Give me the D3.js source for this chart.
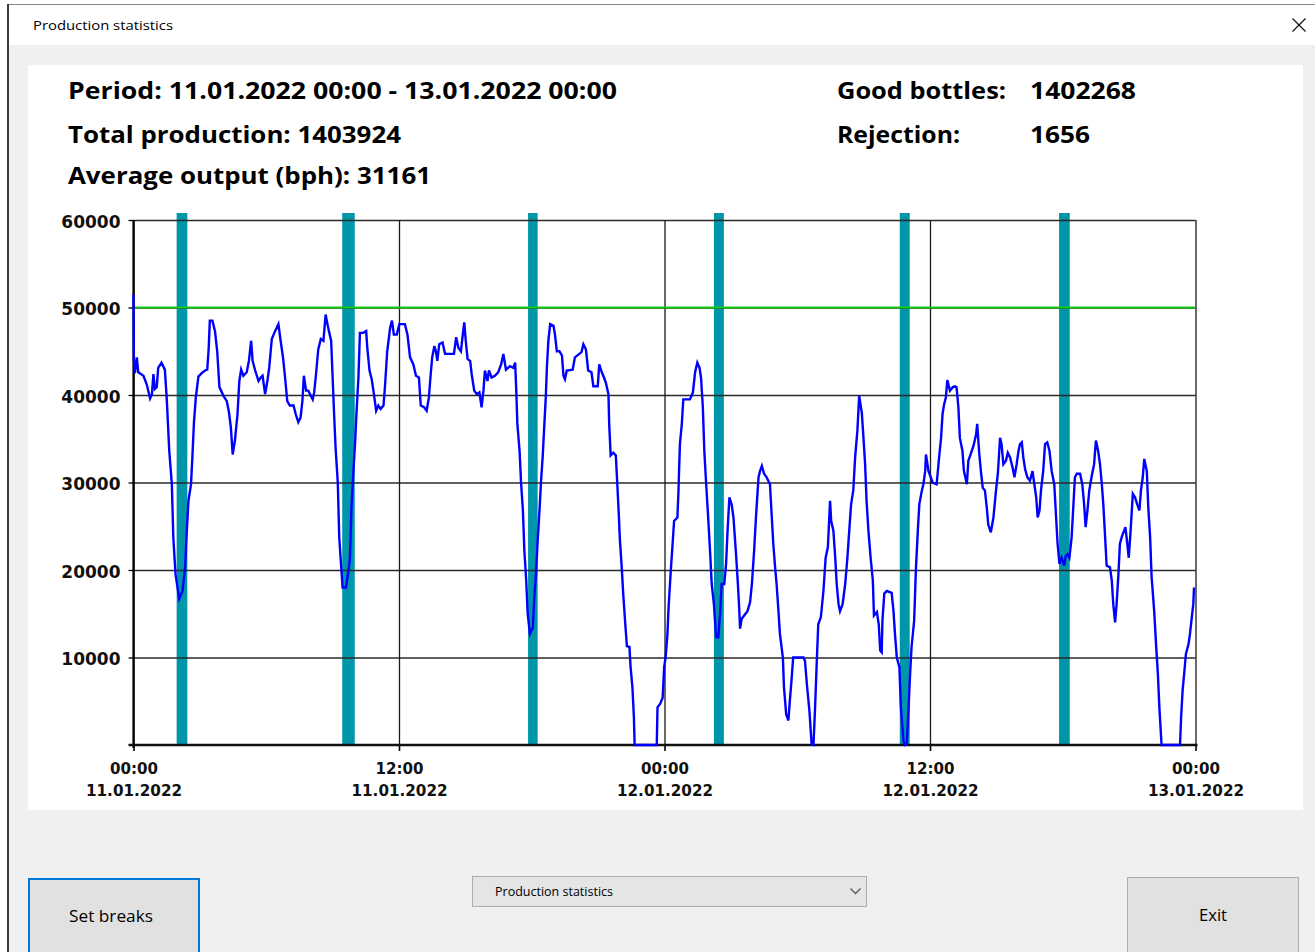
<!DOCTYPE html>
<html><head><meta charset="utf-8">
<script src="https://cdn.jsdelivr.net/npm/d3@7"></script>
<style>body{margin:0;background:#f0f0f0;overflow:hidden} svg{display:block}</style>
</head><body><svg id="c" width="1315" height="952"></svg>
<script>
// ---------- data ----------
const windowTitle = "Production statistics";
const periodText = "Period: 11.01.2022 00:00 - 13.01.2022 00:00";
const totalProduction = 1403924;
const averageOutput = 31161;
const goodBottles = 1402268;
const rejection = 1656;
const periodStart = new Date(2022, 0, 11, 0, 0);
const periodEnd = new Date(2022, 0, 13, 0, 0);
const yTicks = [10000, 20000, 30000, 40000, 50000, 60000];
const targetOutput = 50000;
// breaks, minutes since period start
const breakStartMin = [117, 566, 1070, 1574, 2078, 2510];
const breakEndMin   = [146, 600, 1096, 1601, 2105, 2539];
// output samples: minutes since period start, bottles per hour
const sampleMin = [0,1,4,9,13,27,36,45,50,54,58,63,67,76,85,90,97,104,108,114,124,133,140,144,149,156,160,164,169,176,185,194,200,204,207,214,221,227,233,244,253,259,264,269,275,282,287,292,298,307,313,319,323,330,339,345,350,357,363,368,375,384,393,399,406,411,417,424,434,440,447,453,458,462,468,474,481,486,490,495,501,508,515,521,526,531,536,540,544,548,554,558,563,567,576,583,587,591,596,601,605,610,614,623,631,634,640,646,652,658,664,670,678,682,688,696,701,706,714,721,736,743,750,759,766,774,779,788,795,801,806,810,816,820,824,829,838,845,869,875,881,888,894,897,901,906,913,917,924,931,938,944,949,953,960,964,971,980,989,997,1003,1010,1021,1030,1035,1038,1041,1047,1051,1056,1060,1065,1069,1075,1083,1087,1092,1096,1101,1105,1110,1113,1118,1121,1125,1130,1139,1143,1148,1155,1162,1166,1170,1175,1191,1197,1215,1220,1227,1233,1242,1247,1259,1263,1270,1276,1281,1288,1290,1294,1301,1308,1312,1316,1319,1324,1328,1333,1338,1345,1348,1353,1357,1359,1419,1421,1428,1435,1439,1443,1448,1451,1457,1462,1466,1475,1478,1480,1482,1487,1491,1509,1517,1523,1529,1535,1539,1544,1548,1553,1559,1564,1568,1574,1580,1586,1591,1595,1602,1607,1611,1616,1622,1627,1634,1639,1642,1645,1649,1656,1665,1672,1677,1683,1688,1695,1699,1704,1710,1717,1726,1731,1735,1740,1744,1749,1753,1761,1764,1770,1776,1780,1785,1789,1817,1821,1826,1833,1839,1844,1848,1853,1857,1864,1871,1877,1883,1889,1892,1898,1903,1907,1912,1916,1923,1930,1936,1941,1946,1952,1957,1963,1968,1975,1979,1984,1988,1993,1999,2005,2008,2016,2021,2025,2029,2031,2036,2043,2056,2061,2065,2070,2077,2081,2088,2092,2097,2101,2106,2110,2117,2122,2127,2131,2138,2142,2147,2149,2156,2162,2167,2178,2185,2190,2194,2198,2203,2207,2214,2222,2228,2232,2237,2241,2248,2252,2260,2264,2270,2278,2285,2288,2293,2298,2303,2309,2314,2318,2325,2332,2339,2344,2350,2354,2359,2366,2371,2377,2384,2389,2395,2400,2404,2409,2413,2418,2424,2431,2438,2443,2448,2452,2457,2461,2467,2472,2478,2484,2490,2497,2502,2506,2511,2517,2524,2528,2533,2538,2544,2549,2553,2558,2567,2573,2578,2582,2587,2592,2598,2605,2610,2616,2621,2626,2630,2635,2639,2648,2653,2657,2662,2666,2671,2675,2681,2690,2695,2699,2704,2710,2716,2722,2728,2732,2737,2741,2748,2752,2757,2761,2768,2773,2778,2782,2788,2838,2841,2845,2850,2854,2861,2865,2870,2874,2876];
const outputBph = [51500,44000,42500,44300,42600,42200,41200,39600,40100,42400,40700,40900,43100,43700,42900,39700,33600,29800,23700,19500,16700,17600,20300,24100,27900,29800,33200,36900,39700,42100,42500,42800,42900,45400,48500,48500,47300,45000,40900,39900,39300,38000,36300,33200,34800,37800,41600,42900,42200,42600,43900,46200,43900,42800,41600,42000,42200,40100,41600,43100,46400,47300,48100,46200,44100,42000,39300,38800,38800,37800,36900,37400,39300,42200,40500,40500,39900,39500,40300,42400,45200,46400,46200,49200,48100,47100,46200,42000,37800,34000,30000,23700,20500,18000,18000,19900,21400,27100,31000,34600,38200,42000,47100,47100,47300,45400,42800,41800,40100,38200,38800,38400,38800,41000,45000,47700,48500,46900,46900,48100,48100,46900,44300,43500,42200,42000,38800,38600,38200,39700,42400,44300,45600,45000,43900,45800,46000,44700,44700,46600,45400,45000,47300,48300,46200,44100,43900,42400,40500,40100,40300,38600,40500,42800,41600,42800,42000,42200,42600,43500,44700,42900,43300,43100,43700,40500,36700,33600,30000,26800,22200,18800,15000,12700,13400,16900,19900,23300,26800,30000,33200,35700,39700,43100,46200,48100,47900,46900,45000,45000,44500,42200,41800,42800,42900,44300,44900,45800,45200,42800,42600,41000,41000,43500,42600,42000,41400,40100,36700,33100,33400,33100,29800,26400,23500,20300,17300,14200,11300,11200,8900,6600,3200,0,0,4300,4700,5400,8900,10000,12700,15700,19900,23000,25600,26000,29100,32100,34500,36700,39500,39500,40300,42600,43700,43100,42000,38600,33600,29800,25600,21800,18400,16100,12300,12300,15300,18400,18400,20700,24500,28300,27500,26000,21800,18400,16100,13300,14400,14800,15300,16300,18400,22200,26000,30600,31300,31900,31000,30600,29800,26000,23000,20300,18400,15300,12700,10000,6600,3500,2800,5100,7700,10000,10000,9600,7000,3900,100,0,3900,9600,13800,14600,17600,21400,22600,27900,25600,24500,21400,18400,16100,15300,16100,18400,21400,24500,27500,29100,32900,35900,39900,38000,35500,32100,27900,24500,21400,18800,14800,15200,13800,10800,10600,14200,17300,17600,17400,15300,12700,10000,8900,4300,500,0,100,3500,8100,11200,14200,20300,24500,27500,29100,29800,31300,33200,31300,30600,30000,29800,33000,35100,37800,38900,39700,41700,40500,40900,41000,40900,38600,35100,33600,31300,29800,32500,33200,34200,35500,36700,33600,31300,29400,29100,27100,25200,24300,26000,29100,31000,35100,34400,32100,32500,33400,32900,31700,30600,32100,33600,34400,34600,32900,31500,30600,30200,31300,29800,28300,26000,26800,29100,31300,34400,34600,33600,31300,29800,26000,23000,20700,21400,20500,21600,21800,21400,23700,27500,30600,31000,31000,29800,27500,24900,26800,29100,30600,32100,34800,33600,32100,29800,27500,23700,20500,20300,18800,16100,14000,16100,19500,23000,23900,24900,23000,21400,24500,28700,28300,27500,26800,29100,30600,32700,31300,27100,23700,19200,15300,11500,8100,4300,0,0,3200,6200,8500,10400,11500,12700,14600,16100,18000];
const buttonLabels = ["Set breaks", "Exit"];
const viewOptions = ["Production statistics"];

// ---------- drawing ----------
const svg = d3.select("#c");
const uiFont = "'Open Sans','Noto Sans',sans-serif";
const axFont = "'DejaVu Sans',sans-serif";

// window frame
svg.append("rect").attr("x",0).attr("y",0).attr("width",1315).attr("height",952).attr("fill","#f0f0f0");
svg.append("rect").attr("x",0).attr("y",0).attr("width",1315).attr("height",5).attr("fill","#ffffff");
svg.append("rect").attr("x",0).attr("y",0).attr("width",8).attr("height",952).attr("fill","#ffffff");
svg.append("rect").attr("x",8).attr("y",5).attr("width",1307).attr("height",40).attr("fill","#ffffff");
svg.append("line").attr("x1",8).attr("x2",1315).attr("y1",4.5).attr("y2",4.5).attr("stroke","#8a8a8a").attr("stroke-width",1);
svg.append("line").attr("x1",8).attr("x2",8).attr("y1",4).attr("y2",952).attr("stroke","#3a3a3a").attr("stroke-width",2);
svg.append("text").attr("x",33).attr("y",30).attr("font-family",uiFont).attr("font-size",13.5)
  .attr("fill","#000").attr("textLength",140).attr("lengthAdjust","spacingAndGlyphs").text(windowTitle);
// close X
svg.append("path").attr("d","M1292.5,18.5 L1305.5,31.5 M1305.5,18.5 L1292.5,31.5").attr("stroke","#111").attr("stroke-width",1.2);

// chart panel
svg.append("rect").attr("x",28).attr("y",65).attr("width",1275).attr("height",745).attr("fill","#ffffff");

// header texts
function hdr(x, yb, txt, w){
  svg.append("text").attr("x",x).attr("y",yb).attr("font-family",uiFont).attr("font-weight",700)
    .attr("font-size",23).attr("fill","#000").attr("textLength",w).attr("lengthAdjust","spacingAndGlyphs").text(txt);
}
hdr(68, 99, periodText, 549);
hdr(68, 143, "Total production: " + totalProduction, 333);
hdr(68, 184, "Average output (bph): " + averageOutput, 363);
hdr(837, 99, "Good bottles:", 169);
hdr(1030, 99, String(goodBottles), 106);
hdr(837, 143, "Rejection:", 123);
hdr(1030, 143, String(rejection), 60);

// scales
const x = d3.scaleTime().domain([periodStart, periodEnd]).range([133.5, 1195.5]);
const y = d3.scaleLinear().domain([0, 60000]).range([745, 220]);
const atMin = m => new Date(periodStart.getTime() + m * 60000);
const xTicks = x.ticks(d3.timeHour.every(12));

const plot = svg.append("g");

// breaks
plot.selectAll("rect.brk").data(breakStartMin.map((s,i)=>({s, e: breakEndMin[i]}))).join("rect")
  .attr("class","brk")
  .attr("x", d => x(atMin(d.s))).attr("width", d => x(atMin(d.e)) - x(atMin(d.s)))
  .attr("y", y(60000) - 7).attr("height", y(0) - y(60000) + 7)
  .attr("fill", "#0096aa");

// horizontal grid
plot.append("g").attr("transform",`translate(${x(periodStart)},0)`)
  .call(d3.axisLeft(y).tickValues(yTicks).tickSize(-(x(periodEnd)-x(periodStart))).tickFormat(""))
  .call(g => g.select(".domain").remove())
  .call(g => g.selectAll("line").attr("stroke","#2a2a2a").attr("stroke-width",1.3));

// vertical grid
plot.append("g").attr("transform",`translate(0,${y(0)})`)
  .call(d3.axisBottom(x).tickValues(xTicks).tickSize(-(y(0)-y(60000))).tickFormat(""))
  .call(g => g.select(".domain").remove())
  .call(g => g.selectAll("line").attr("stroke","#1a1a1a").attr("stroke-width",1.3));

// target line
plot.append("line").attr("x1",x(periodStart)).attr("x2",x(periodEnd))
  .attr("y1",y(targetOutput)).attr("y2",y(targetOutput))
  .attr("stroke","#11cc11").attr("stroke-width",2);

// y labels + small ticks
const yAx = plot.append("g").attr("transform",`translate(${x(periodStart)},0)`)
  .call(d3.axisLeft(y).tickValues(yTicks).tickSize(5).tickPadding(8).tickFormat(d3.format("d")));
yAx.select(".domain").remove();
yAx.selectAll("line").attr("stroke","#000").attr("stroke-width",1.3);
yAx.selectAll("text").attr("font-family",axFont).attr("font-weight",700).attr("font-size",17)
  .attr("fill","#111").attr("dy","0.42em");

// x axis
const xAx = plot.append("g").attr("transform",`translate(0,${y(0)})`)
  .call(d3.axisBottom(x).tickValues(xTicks).tickSize(6).tickFormat(""));
xAx.select(".domain").remove();
xAx.selectAll("line").attr("stroke","#000").attr("stroke-width",1.6);
const fTime = d3.timeFormat("%H:%M"), fDate = d3.timeFormat("%d.%m.%Y");
xAx.selectAll(".tick").each(function(d){
  const t = d3.select(this).append("text").attr("text-anchor","middle")
    .attr("font-family",axFont).attr("font-weight",700).attr("font-size",16).attr("fill","#111");
  t.append("tspan").attr("x",0).attr("y",29).attr("textLength",48).attr("lengthAdjust","spacingAndGlyphs").text(fTime(d));
  t.append("tspan").attr("x",0).attr("y",51).attr("textLength",96).attr("lengthAdjust","spacingAndGlyphs").text(fDate(d));
});

// axis lines
plot.append("line").attr("x1",x(periodStart)).attr("x2",x(periodStart)).attr("y1",y(60000)).attr("y2",y(0)+3)
  .attr("stroke","#000").attr("stroke-width",2.2);
plot.append("line").attr("x1",x(periodStart)-5).attr("x2",x(periodEnd)+2).attr("y1",y(0)).attr("y2",y(0))
  .attr("stroke","#111").attr("stroke-width",2.6);

// output line
const series = sampleMin.map((m,i)=>({t: atMin(m), v: outputBph[i]}));
plot.append("path").datum(series)
  .attr("d", d3.line().x(d => x(d.t)).y(d => y(d.v)))
  .attr("fill","none").attr("stroke","#0000ff").attr("stroke-width",2.4).attr("stroke-linejoin","miter");

// bottom controls
function button(x0, y0, w, h, label, stroke, sw, tx, tw){
  svg.append("rect").attr("x",x0).attr("y",y0).attr("width",w).attr("height",h)
    .attr("fill","#e1e1e1").attr("stroke",stroke).attr("stroke-width",sw);
  svg.append("text").attr("x",tx).attr("y",y0+43).attr("text-anchor","middle")
    .attr("font-family",uiFont).attr("font-size",16.5).attr("fill","#000")
    .attr("textLength",tw).attr("lengthAdjust","spacingAndGlyphs").text(label);
}
button(29, 879, 170, 80, buttonLabels[0], "#0078d7", 2, 111, 84);
button(1127.5, 877.5, 171, 80, buttonLabels[1], "#adadad", 1, 1213, 28);

svg.append("rect").attr("x",472.5).attr("y",876.5).attr("width",394).attr("height",30)
  .attr("fill","#e5e5e5").attr("stroke","#adadad").attr("stroke-width",1);
svg.append("text").attr("x",495).attr("y",896).attr("font-family",uiFont).attr("font-size",12.5)
  .attr("fill","#000").attr("textLength",118).attr("lengthAdjust","spacingAndGlyphs").text(viewOptions[0]);
svg.append("path").attr("d","M850.5,888.5 L855.5,893.5 L860.5,888.5").attr("fill","none").attr("stroke","#555").attr("stroke-width",1.3);
</script></body></html>
